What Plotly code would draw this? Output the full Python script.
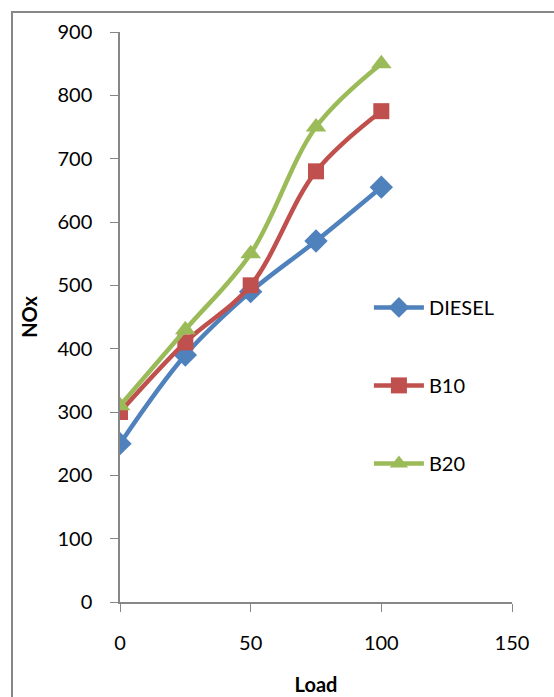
import plotly.graph_objects as go

load = [0, 25, 50, 75, 100]
diesel = [250, 390, 490, 570, 655]
b10 = [300, 410, 500, 680, 775]
b20 = [310, 430, 550, 750, 850]

series = [
    ("DIESEL", diesel, "#4F81BD", "diamond", 18),
    ("B10", b10, "#C0504D", "square", 16),
    ("B20", b20, "#9BBB59", "triangle-up", 18),
]

FONT = "Lato, Open Sans, sans-serif"
AXIS_GRAY = "#878787"

fig = go.Figure()
for i, (name, vals, color, symbol, size) in enumerate(series):
    fig.add_trace(go.Scatter(
        x=load, y=vals, name=name, mode="lines+markers",
        line=dict(color=color, width=4.5, shape="spline", smoothing=1.0),
        marker=dict(symbol=symbol, size=size, color=color),
        legendgroup=f"g{i}",
    ))

fig.update_layout(
    width=554, height=697,
    margin=dict(l=120, r=42, t=32, b=95),
    paper_bgcolor="white", plot_bgcolor="white",
    font=dict(family=FONT, size=20, color="black"),
    showlegend=True,
    legend=dict(
        x=0.635, y=0.38, xanchor="left", yanchor="middle",
        font=dict(size=20), tracegroupgap=49, itemwidth=50,
        bgcolor="rgba(0,0,0,0)",
    ),
    xaxis=dict(
        range=[0, 150], tickvals=[0, 50, 100, 150], showgrid=False,
        zeroline=False, showline=True, linecolor=AXIS_GRAY, linewidth=1.5,
        ticks="outside", ticklen=8, tickcolor=AXIS_GRAY, ticklabelstandoff=14,
        automargin=False,
        title=dict(text="<b>Load</b>", font=dict(size=20), standoff=25),
    ),
    yaxis=dict(
        range=[0, 900], tickvals=list(range(0, 901, 100)), showgrid=False,
        zeroline=False, showline=True, linecolor=AXIS_GRAY, linewidth=1.5,
        ticks="outside", ticklen=8, tickcolor=AXIS_GRAY, ticklabelstandoff=14,
        automargin=False,
        title=dict(text="<b>NOx</b>", font=dict(size=20), standoff=14),
    ),
    shapes=[dict(
        type="rect", xref="paper", yref="paper",
        x0=-0.2755, x1=1.3, y0=-0.3, y1=1.035,
        line=dict(color=AXIS_GRAY, width=2), layer="below",
    )],
)

fig.write_html("out.html")
